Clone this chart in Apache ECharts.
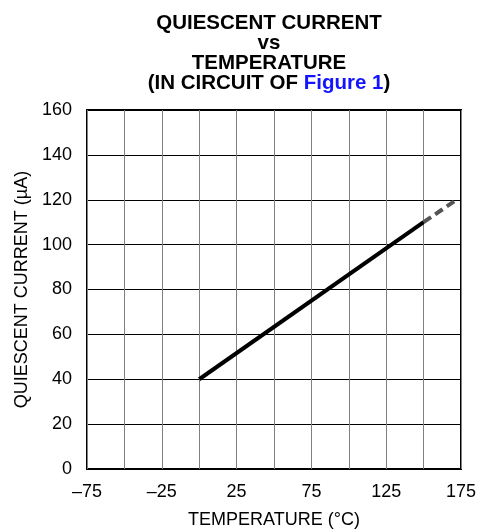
<!DOCTYPE html>
<html>
<head>
<meta charset="utf-8">
<script src="https://cdn.jsdelivr.net/npm/echarts@6/dist/echarts.min.js"></script>
<style>
  html, body { margin: 0; padding: 0; background: #fff; }
  #chart { width: 482px; height: 529px; }
</style>
</head>
<body>
<div id="chart"></div>
<script>
  // values
  var solidTemp = [0, 150];
  var solidCurrent = [40, 110];
  var dashTemp = [150, 172];
  var dashCurrent = [110, 120];
  var xTicks = [-75, -25, 25, 75, 125, 175];

  function pairs(xs, ys) {
    var out = [];
    for (var i = 0; i < xs.length; i++) out.push([xs[i], ys[i]]);
    return out;
  }

  var chart = echarts.init(document.getElementById('chart'));
  var font = 'Liberation Sans, Arial, sans-serif';

  chart.setOption({
    animation: false,
    title: {
      text: '{b|QUIESCENT CURRENT}\n{b|vs}\n{b|TEMPERATURE}\n{b|(IN CIRCUIT OF }{l|Figure 1}{b|)}',
      left: 264,
      top: 8,
      textAlign: 'center',
      textStyle: {
        rich: {
          b: { fontFamily: font, fontWeight: 'bold', fontSize: 20.5, color: '#000', lineHeight: 20 },
          l: { fontFamily: font, fontWeight: 'bold', fontSize: 20.5, color: '#1414ff', lineHeight: 20 }
        }
      }
    },
    grid: {
      left: 87, right: 21, top: 110, bottom: 60,
      outerBoundsMode: 'none',
      show: true, borderColor: '#000', borderWidth: 2
    },
    xAxis: {
      type: 'value',
      min: -75, max: 175, interval: 25,
      name: 'TEMPERATURE (°C)',
      nameLocation: 'middle',
      nameGap: 42,
      nameTextStyle: { fontFamily: font, fontSize: 18, color: '#000' },
      axisLine: { show: false },
      axisTick: { show: false },
      splitLine: { show: true, lineStyle: { color: '#808080', width: 1 } },
      axisLabel: {
        margin: 14,
        fontFamily: font, fontSize: 18, color: '#000',
        formatter: function (v) {
          if (xTicks.indexOf(v) < 0) return '';
          return v < 0 ? '\u2013' + Math.abs(v) : String(v);
        }
      }
    },
    yAxis: {
      type: 'value',
      min: 0, max: 160, interval: 20,
      name: 'QUIESCENT CURRENT (µA)',
      nameLocation: 'middle',
      nameGap: 56,
      nameTextStyle: { fontFamily: font, fontSize: 18, color: '#000' },
      axisLine: { show: false },
      axisTick: { show: false },
      splitLine: { show: true, lineStyle: { color: '#000', width: 1 } },
      axisLabel: { margin: 15, fontFamily: font, fontSize: 18, color: '#000' }
    },
    series: [
      {
        type: 'line',
        data: pairs(solidTemp, solidCurrent),
        symbol: 'none',
        lineStyle: { color: '#000', width: 4 }
      },
      {
        type: 'line',
        data: pairs(dashTemp, dashCurrent),
        symbol: 'none',
        lineStyle: { color: '#555', width: 4, type: [9, 5] }
      }
    ]
  });
</script>
</body>
</html>
